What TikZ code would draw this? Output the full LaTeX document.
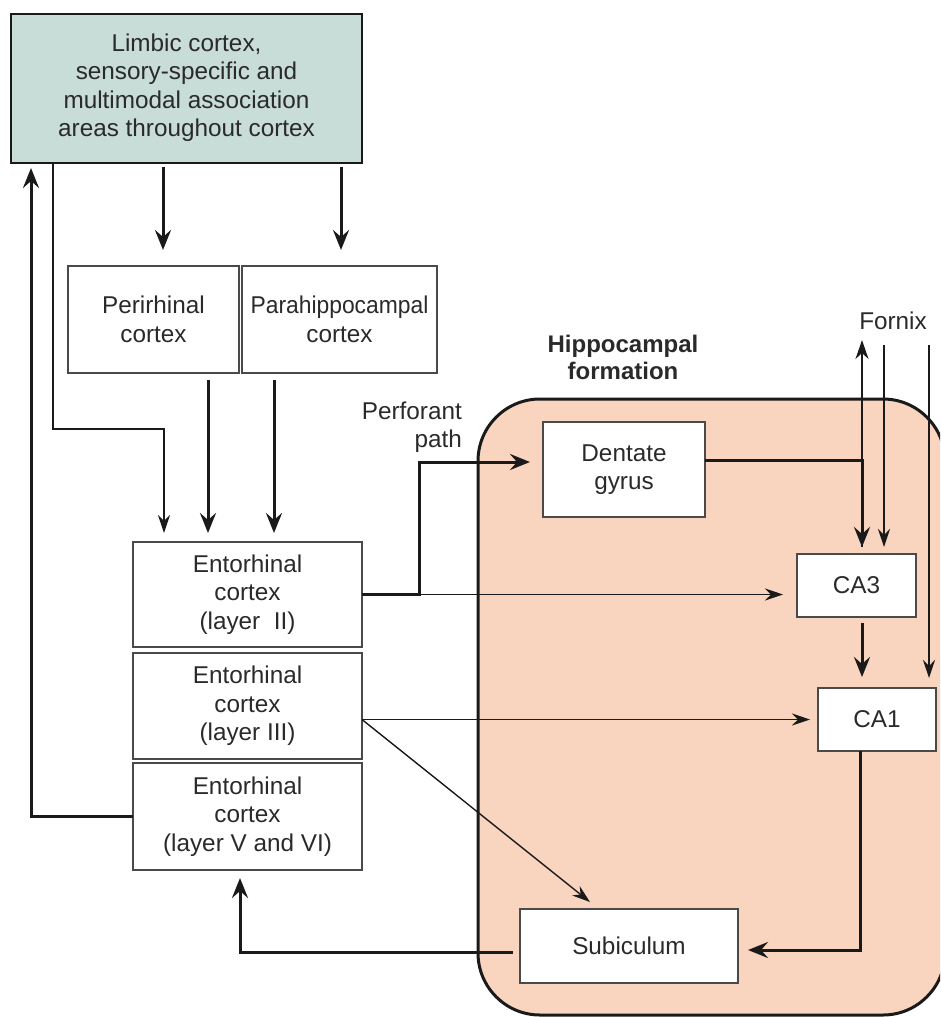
\documentclass[tikz,border=0pt]{standalone}
\usepackage{fontspec}
\setmainfont{Liberation Sans}
\usetikzlibrary{arrows.meta,calc}
\definecolor{limbicfill}{HTML}{C8DCD8}
\definecolor{hippofill}{HTML}{F9D4BF}
\definecolor{ink}{HTML}{1A1A1A}
\definecolor{txt}{HTML}{2A2A2A}
\definecolor{boxline}{HTML}{4A4A4A}
\begin{document}
\begin{tikzpicture}[x=1pt,y=1pt,
  lbl/.style={font=\fontsize{24.3}{28.5}\selectfont, text=txt, align=center, inner sep=0pt},
  cbox/.style={lbl, draw=boxline, line width=1.6pt, fill=white, outer sep=0pt},
  thk/.style={draw=ink, line width=3pt, -{Stealth[length=20pt,width=16pt,inset=7pt]}},
  thn/.style={draw=ink, line width=1.4pt, -{Stealth[length=18pt,width=12pt,inset=6pt]}},
  med/.style={draw=ink, line width=2pt, -{Stealth[length=19pt,width=13pt,inset=6pt]}}]
\useasboundingbox (0,0) rectangle (940,-1017);
% hippocampal formation region
\begin{scope}
  \clip (0,0) rectangle (940,-1017);
  \draw[line width=3pt, draw=ink, fill=hippofill, rounded corners=62pt] (478,-399) rectangle (945,-1015);
\end{scope}
% boxes
\node[cbox, fill=limbicfill, draw=ink, minimum width=351, minimum height=149] (limbic) at (186.5,-88.5)
  {\raisebox{4pt}{\begin{tabular}{@{}c@{}}Limbic cortex,\\sensory-specific and\\multimodal association\\areas throughout cortex\end{tabular}}};
\node[cbox, minimum width=171, minimum height=107] (peri) at (153.5,-319.5) {Perirhinal\\cortex};
\node[cbox, minimum width=195, minimum height=107] (para) at (339.5,-319.5) {\scalebox{0.94}[1]{Parahippocampal}\\cortex};
\node[cbox, minimum width=229, minimum height=105] (ent2) at (247.5,-594.5) {Entorhinal\\cortex\\(layer\ \ II)};
\node[cbox, minimum width=229, minimum height=106] (ent3) at (247.5,-706) {Entorhinal\\cortex\\(layer III)};
\node[cbox, minimum width=229, minimum height=107] (ent56) at (247.5,-816.5) {Entorhinal\\cortex\\(layer V and VI)};
\node[cbox, minimum width=162, minimum height=95] (dentate) at (624,-469.5) {Dentate\\gyrus};
\node[cbox, minimum width=119, minimum height=63] (CA3) at (856.5,-585.5) {CA3};
\node[cbox, minimum width=118, minimum height=63] (CA1) at (877,-719.5) {CA1};
\node[cbox, minimum width=218, minimum height=74] (sub) at (629,-946) {Subiculum};
% labels
\node[lbl, font=\fontsize{24}{27}\selectfont\bfseries] (hf) at (623,-357) {Hippocampal\\formation};
\node[lbl] (fornix) at (893,-321) {Fornix};
\node[lbl, align=right, anchor=east] (pp) at (462,-427) {Perforant\\path};
% connectors
\draw[thk] (ent56.west) -| ($(limbic.south west)+(20,-5)$);
\draw[thn] ($(limbic.south west)+(42,0)$) |- ($(ent2.north west)+(31,113)$) -- ($(ent2.north west)+(31,9)$);
\draw[thk] ($(limbic.south west)+(152,-4)$) -- ($(peri.north west)+(95,16)$);
\draw[thk] ($(limbic.south west)+(330,-4)$) -- ($(para.north west)+(99,16)$);
\draw[thk] ($(peri.south west)+(140,-7)$) -- ($(ent2.north west)+(75,9)$);
\draw[thk] ($(para.south west)+(32,-7)$) -- ($(ent2.north west)+(141,9)$);
\draw[thn, shorten >=14pt] (ent2.east) -- (ent2.east -| CA3.west);
\draw[thk] (ent2.east) -| ($(dentate.north west)+(-124,-40)$) -- ($(dentate.north west)+(-13,-40)$);
\draw[thk] ($(dentate.east)+(0,9.5)$) -| ($(CA3.north west)+(65,7)$);
\draw[med] ($(CA3.north west)+(65,7)$) -- ($(CA3.north west)+(65,214)$);
\draw[thn] ($(CA3.north west)+(87,209)$) -- ($(CA3.north west)+(87,7)$);
\draw[thn] ($(CA1.north west)+(111,343)$) -- ($(CA1.north west)+(111,10)$);
\draw[thk] ($(CA3.south west)+(65,-6)$) -- ($(CA1.north west)+(44,11)$);
\draw[thn, shorten >=8pt] (CA1.west -| ent3.east) -- (CA1.west);
\draw[thn] (CA1.west -| ent3.east) -- ($(sub.north west)+(70,7)$);
\draw[thk, shorten >=10pt] ($(CA1.south west)+(42,0)$) |- ($(sub.east)+(0,-4)$);
\draw[thk] ($(sub.west)+(-7,-6)$) -| ($(ent56.south west)+(107,-8)$);
\end{tikzpicture}
\end{document}
